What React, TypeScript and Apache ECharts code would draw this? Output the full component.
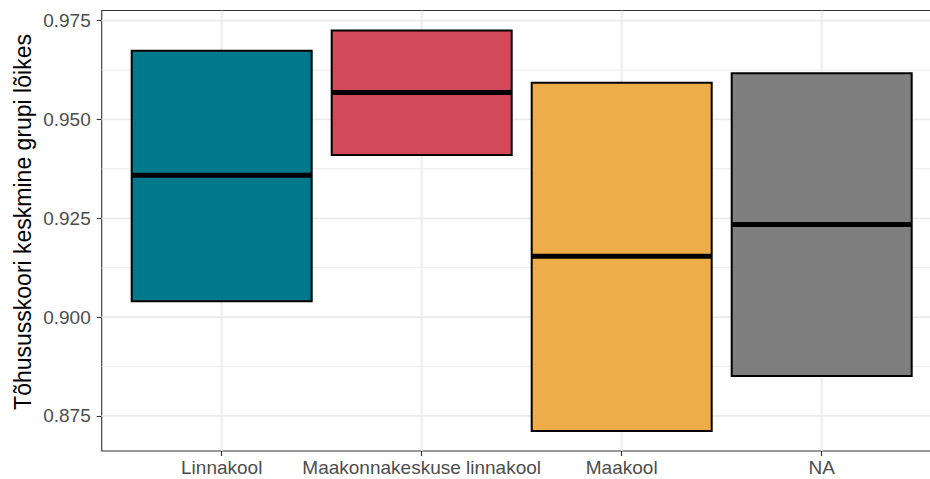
import React, { useEffect, useRef } from "react";
import * as echarts from "echarts";

const categories = ["Linnakool", "Maakonnakeskuse linnakool", "Maakool", "NA"];
const lowValues = [0.904, 0.941, 0.8712, 0.8851];
const medianValues = [0.9359, 0.9568, 0.9154, 0.9234];
const highValues = [0.9674, 0.9725, 0.9593, 0.9617];
const fillColors = ["#00798c", "#d1495b", "#edae49", "#7f7f7f"];
const yTicks = [0.875, 0.9, 0.925, 0.95, 0.975];
const yMinor = [0.8875, 0.9125, 0.9375, 0.9625];
const yTitle = "Tõhususskoori keskmine grupi lõikes";

const FONT = "'Liberation Sans', Arial, Helvetica, sans-serif";

export default function App() {
  const ref = useRef<HTMLDivElement>(null);
  useEffect(() => {
    if (!ref.current) return;
    const chart = echarts.init(ref.current, undefined, { renderer: "svg" });
    const dataMin = Math.min(...lowValues);
    const dataMax = Math.max(...highValues);
    const span = dataMax - dataMin;
    const yMin = dataMin - 0.05 * span;
    const yMax = dataMax + 0.05 * span;
    const xMin = 0.4;
    const xMax = categories.length + 0.6;
    const xPositions = categories.map((_, i) => i + 1);

    const gridData: number[][] = [
      ...yTicks.map((v) => [v, 0]),
      ...yMinor.map((v) => [v, 1]),
      ...xPositions.map((v) => [v, 2]),
    ];

    const boxData = categories.map((_, i) => [
      i + 1,
      lowValues[i],
      medianValues[i],
      highValues[i],
      i,
    ]);

    chart.setOption({
      animation: false,
      grid: {
        left: 101.7,
        width: 840,
        top: 10.5,
        bottom: 28,
        outerBoundsMode: "none",
        containLabel: false,
        show: true,
        borderColor: "#333333",
        borderWidth: 1.1,
        backgroundColor: "#ffffff",
      },
      xAxis: {
        type: "value",
        min: xMin,
        max: xMax,
        axisLine: { show: false },
        splitLine: { show: false },
        axisTick: {
          show: true,
          length: 5,
          customValues: xPositions,
          lineStyle: { color: "#333333", width: 1.1 },
        },
        axisLabel: {
          customValues: xPositions,
          formatter: (v: number) => categories[Math.round(v) - 1] ?? "",
          color: "#4d4d4d",
          fontSize: 19,
          fontFamily: FONT,
          margin: 7,
        },
      },
      yAxis: {
        type: "value",
        min: yMin,
        max: yMax,
        axisLine: { show: false },
        splitLine: { show: false },
        axisTick: {
          show: true,
          length: 5,
          customValues: yTicks,
          lineStyle: { color: "#333333", width: 1.1 },
        },
        axisLabel: {
          customValues: yTicks,
          formatter: (v: number) => v.toFixed(3),
          color: "#4d4d4d",
          fontSize: 19,
          fontFamily: FONT,
          margin: 11,
        },
      },
      graphic: [
        {
          type: "text",
          x: 23,
          y: 222,
          rotation: Math.PI / 2,
          style: {
            text: yTitle,
            fontSize: 23,
            fontFamily: FONT,
            fill: "#000000",
            textAlign: "center",
            textVerticalAlign: "middle",
          },
        },
      ],
      series: [
        {
          type: "custom",
          z: 1,
          silent: true,
          clip: true,
          data: gridData,
          renderItem: (params: any, api: any) => {
            const v = api.value(0);
            const kind = api.value(1);
            if (kind === 2) {
              const a = api.coord([v, yMin]);
              const b = api.coord([v, yMax]);
              return {
                type: "line",
                shape: { x1: a[0], y1: a[1], x2: b[0], y2: b[1] },
                style: { stroke: "#ebebeb", lineWidth: 1.8 },
              };
            }
            const a = api.coord([xMin, v]);
            const b = api.coord([xMax, v]);
            return {
              type: "line",
              shape: { x1: a[0], y1: a[1], x2: b[0], y2: b[1] },
              style: {
                stroke: "#ebebeb",
                lineWidth: kind === 0 ? 1.8 : 1.0,
              },
            };
          },
        },
        {
          type: "custom",
          z: 2,
          silent: true,
          data: boxData,
          renderItem: (params: any, api: any) => {
            const x = api.value(0);
            const lo = api.value(1);
            const med = api.value(2);
            const hi = api.value(3);
            const ci = api.value(4);
            const half = 0.45;
            const tl = api.coord([x - half, hi]);
            const br = api.coord([x + half, lo]);
            const ml = api.coord([x - half, med]);
            const mr = api.coord([x + half, med]);
            return {
              type: "group",
              children: [
                {
                  type: "rect",
                  shape: {
                    x: tl[0],
                    y: tl[1],
                    width: br[0] - tl[0],
                    height: br[1] - tl[1],
                  },
                  style: {
                    fill: fillColors[ci],
                    stroke: "#000000",
                    lineWidth: 2,
                  },
                },
                {
                  type: "line",
                  shape: { x1: ml[0], y1: ml[1], x2: mr[0], y2: mr[1] },
                  style: { stroke: "#000000", lineWidth: 5 },
                },
              ],
            };
          },
        },
      ],
    });
    return () => chart.dispose();
  }, []);
  return (
    <div
      ref={ref}
      style={{ position: "fixed", left: 0, top: 0, width: 930, height: 479, background: "#ffffff" }}
    />
  );
}
